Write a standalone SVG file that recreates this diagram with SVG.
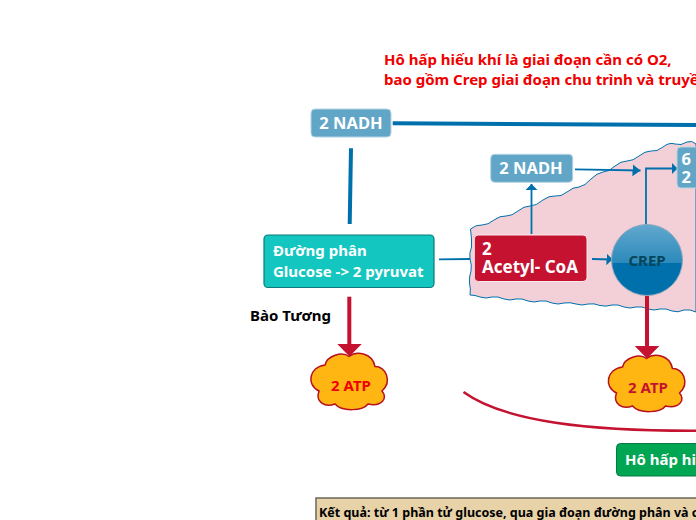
<svg xmlns="http://www.w3.org/2000/svg" width="696" height="520" viewBox="0 0 696 520">
<style>
text{font-family:"Noto Sans","Open Sans","Liberation Sans",sans-serif;font-weight:700}
.nadh{fill:#62a6c7;stroke:#b5d4e4;stroke-width:1}
.w{fill:#fff}
.b{fill:none;stroke:#0070ad;stroke-linecap:butt}
.r{fill:none;stroke:#c41230}
.cloud{fill:#ffb612;stroke:#b8101f;stroke-width:1.5}
</style>
<defs>
<marker id="ab" markerUnits="userSpaceOnUse" markerWidth="8" markerHeight="12" refX="6" refY="6" orient="auto"><path d="M0 0L6 6L0 12Z" fill="#0070ad"/></marker>
<marker id="ab2" markerUnits="userSpaceOnUse" markerWidth="10" markerHeight="12" refX="8" refY="6" orient="auto"><path d="M0 0L8 6L0 12Z" fill="#0070ad"/></marker>
<linearGradient id="crepg" x1="0" y1="0" x2="0" y2="1"><stop offset="0" stop-color="#62a8cf"/><stop offset="0.54" stop-color="#2c8abb"/><stop offset="0.54" stop-color="#0070ad"/><stop offset="1" stop-color="#0070ad"/></linearGradient>
<path id="cloudshape" class="cloud" d="M325 365C327 356 342 351 349 356.500C356 351 372 352 375 366.500C385 366 393 381 382 391C388 398 382 407 368 404C363 411 342 412 335 404C325 408 315 402 319 391C306 385 309 367 325 365Z"/>
</defs>
<g id="mitochondrion"><path d="M470.500 229Q476 224.500 482 225Q488 225 494 220Q500 215.500 506 216Q512 216 518 211Q524 206 530 206Q536 206 543 200Q549 195.500 555 196Q561 197 567 192Q573 187 579 187Q585 186 591 179Q597 173 603 172Q609 172 615 166Q621 161 627 161Q633 161 639 156Q645 151 651 151Q657 152 663 147Q669 142 675 144Q681 146 687 142Q692 140 696 144V312Q690 309 684 310Q678 313 672 311Q666 308 660 309Q654 311 648 309Q642 306 636 307Q630 309 624 307Q618 304 612 305Q606 307 600 305.500Q594 303 588 304Q582 306 576 304Q570 302 564 303Q558 305 552 303Q546 300 540 301Q534 303 528 301Q522 298 516 299Q510 301 504 299Q498 296 492 297Q486 299 480 297Q475 295 470 295Q471 289 469.500 283Q469 277 471 271Q472 265 470 259Q469 253 471.500 247Q472 240 470.500 229Z" fill="#f3d0d7" stroke="#0070ad" stroke-width="1"/></g>
<g id="connectors">
<path class="b" d="M392.700 123.300L696 125" stroke-width="4"/>
<path class="b" d="M351 148.300L349.700 224" stroke-width="4"/>
<path class="b" d="M439 259.300L470 259" stroke-width="1.800"/>
<path class="b" d="M531.500 234V184" stroke-width="1.800" marker-end="url(#ab)"/>
<path class="b" d="M575 169.300L640.500 170.500" stroke-width="1.800" marker-end="url(#ab2)"/>
<path class="b" d="M646 225V168.500H677.500" stroke-width="1.800" marker-end="url(#ab)"/>
<path class="b" d="M592 259L612.500 259.500" stroke-width="1.800" marker-end="url(#ab)"/>
<path class="r" d="M349.300 296.700V345" stroke-width="4"/>
<path d="M337.300 344H361.700L349.500 356.500Z" fill="#c41230"/>
<path class="r" d="M647 296V347" stroke-width="4"/>
<path d="M634.700 346H659.300L647 358.500Z" fill="#c41230"/>
<path class="r" d="M463.500 392C505 422 590 431 696 430.700" stroke-width="2.500"/>
</g>
<g id="title"><text x="384" y="65" font-size="15" fill="#f00000">Hô hấp hiếu khí là giai đoạn cần có O2,</text><text x="384" y="85" font-size="15" fill="#f00000">bao gồm Crep giai đoạn chu trình và truyề</text></g>
<g id="nadh1"><rect class="nadh" x="311" y="109" width="80" height="28" rx="4"/><text class="w" x="351" y="129" font-size="16.500" text-anchor="middle">2 NADH</text></g>
<g id="nadh2"><rect class="nadh" x="490.700" y="154.300" width="82" height="28" rx="4"/><text class="w" x="531" y="174" font-size="16.500" text-anchor="middle">2 NADH</text></g>
<g id="nadh3"><rect class="nadh" x="677" y="147" width="30" height="41" rx="4"/><text class="w" x="681.500" y="165" font-size="16.500">6</text><text class="w" x="681.500" y="183" font-size="16.500">2</text></g>
<g id="duongphan"><rect x="264" y="235" width="170" height="52.500" rx="4" fill="#14c6c0" stroke="#0b7b7b" stroke-width="1.200"/><text class="w" x="273" y="256" font-size="15">Đường phân</text><text class="w" x="273" y="277" font-size="15">Glucose -&gt; 2 pyruvat</text></g>
<g id="acetyl"><rect x="474.300" y="235" width="112.700" height="46.500" rx="4" fill="#c41230" stroke="#fbe9ec" stroke-width="1"/><text class="w" x="482" y="255" font-size="17">2</text><text class="w" x="482" y="273" font-size="17">Acetyl- CoA</text></g>
<g id="crep"><circle cx="647" cy="260" r="35.500" fill="url(#crepg)" stroke="#8aa8bc" stroke-width="1"/><text x="647" y="266" font-size="15" fill="#05465a" text-anchor="middle">CREP</text></g>
<g id="baotuong"><text x="250" y="321" font-size="15" fill="#000">Bào Tương</text></g>
<g id="atp1"><use href="#cloudshape"/><text x="351" y="391" font-size="15" fill="#f00000" text-anchor="middle">2 ATP</text></g>
<g id="atp2"><use href="#cloudshape" transform="translate(297.500 2)"/><text x="648" y="393" font-size="15" fill="#c41230" text-anchor="middle">2 ATP</text></g>
<g id="hohap"><rect x="616.500" y="443.500" width="100" height="32.500" rx="4" fill="#00a651" stroke="#067a44" stroke-width="1"/><text class="w" x="625" y="465" font-size="15">Hô hấp hi</text></g>
<g id="ketqua"><rect x="316" y="498" width="400" height="40" fill="#e8d3a8" stroke="#6e6759" stroke-width="1.500"/><text x="319" y="517" font-size="12.500" fill="#000">Kết quả: từ 1 phần tử glucose, qua gia đoạn đường phân và c</text></g>
</svg>
